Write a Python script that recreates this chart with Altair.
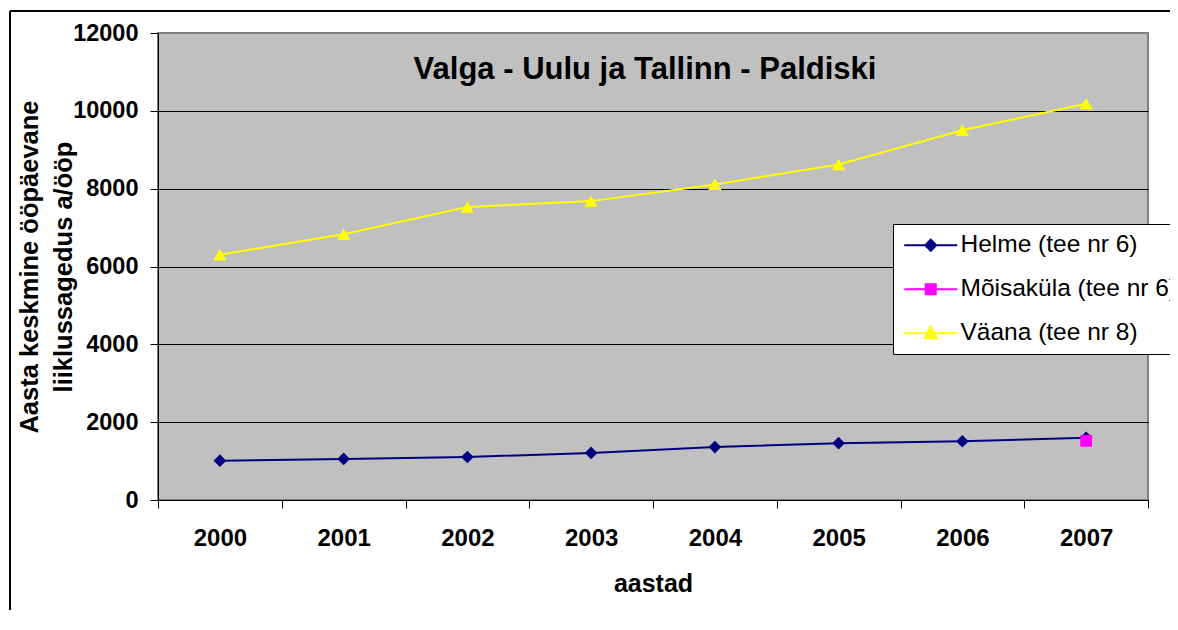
import altair as alt
import pandas as pd

# ---- data ----
years = ["2000", "2001", "2002", "2003", "2004", "2005", "2006", "2007"]
series = ["Helme (tee nr 6)", "Mõisaküla (tee nr 6)", "Väana (tee nr 8)"]
helme = [1010, 1055, 1105, 1210, 1360, 1460, 1510, 1600]
moisakula_years = ["2007"]
moisakula = [1520]
vaana = [6300, 6830, 7530, 7680, 8110, 8620, 9500, 10180]
y_ticks = [0, 2000, 4000, 6000, 8000, 10000, 12000]
colors = ["#000080", "#FF00FF", "#FFFF00"]
marker_shapes = ["diamond", "square", "triangle-up"]
marker_sizes = [160, 140, 175]
legend_paths = [
    "M-1,0H4.3M1.65,-0.55L2.2,0L1.65,0.55L1.1,0Z",
    "M-1,0H4.3M1.15,-0.5H2.15V0.5H1.15Z",
    "M-1,0H4.3M1.65,-0.65L2.25,0.5L1.05,0.5Z",
]
title_text = "Valga - Uulu ja Tallinn - Paldiski"
FONT = "Liberation Sans"

rows = []
for y, v in zip(years, helme):
    rows.append({"year": y, "value": v, "series": series[0]})
for y, v in zip(moisakula_years, moisakula):
    rows.append({"year": y, "value": v, "series": series[1]})
for y, v in zip(years, vaana):
    rows.append({"year": y, "value": v, "series": series[2]})
df = pd.DataFrame(rows)
decor = pd.DataFrame({"k": [0]})

x_enc = alt.X(
    "year:O",
    scale=alt.Scale(type="band", domain=years, paddingInner=0, paddingOuter=0),
    bandPosition=0.5,
    axis=alt.Axis(
        title="aastad",
        tickBand="extent",
        labelAngle=0,
        labelFont=FONT,
        labelFontSize=24,
        labelFontWeight="bold",
        labelColor="black",
        labelPadding=18,
        tickSize=8,
        tickColor="black",
        domainColor="black",
        domainWidth=1,
        grid=False,
        titleFont=FONT,
        titleFontSize=25,
        titleFontWeight="bold",
        titleColor="black",
        titleY=83,
        titleBaseline="middle",
    ),
)
y_enc = alt.Y(
    "value:Q",
    scale=alt.Scale(domain=[0, 12000], nice=False),
    axis=alt.Axis(
        values=y_ticks,
        format="d",
        title=["Aasta keskmine ööpäevane", "liiklussagedus a/ööp"],
        labelFont=FONT,
        labelFontSize=23.5,
        labelFontWeight="bold",
        labelColor="black",
        labelPadding=12,
        tickSize=8,
        tickColor="black",
        domainColor="black",
        domainWidth=1,
        grid=True,
        gridColor="black",
        gridWidth=1,
        gridOpacity={"condition": {"test": "datum.value === 12000 || datum.value === 0", "value": 0}, "value": 1},
        titleFont=FONT,
        titleFontSize=25.5,
        titleFontWeight="bold",
        titleColor="black",
        titleAngle=270,
        titleAlign="center",
        titleBaseline="middle",
        titleLineHeight=34,
        titleX=-129,
        titleY=233.5,
    ),
)

leg = alt.Legend(
    title=None,
    orient="none",
    legendX=735,
    legendY=191,
    padding=9,
    fillColor="white",
    strokeColor="black",
    cornerRadius=0,
    labelFont=FONT,
    labelFontSize=24.5,
    labelColor="black",
    labelOffset=34,
    labelLimit=500,
    symbolSize=400,
    symbolStrokeWidth=2,
    symbolOpacity=1,
    rowPadding=19,
)

border_top = alt.Chart(decor).mark_rule(color="black", strokeWidth=2).encode(
    x=alt.value(-148), x2=alt.value(1040), y=alt.value(-22)
)
border_left = alt.Chart(decor).mark_rule(color="black", strokeWidth=2).encode(
    x=alt.value(-148), y=alt.value(-22), y2=alt.value(640)
)

line_layers = []
point_layers = []
for s, c, shp, sz in zip(series, colors, marker_shapes, marker_sizes):
    base = alt.Chart(df).transform_filter(alt.datum.series == s)
    line_layers.append(
        base.mark_line(strokeWidth=2, color=c).encode(x=x_enc, y=y_enc)
    )
    point_layers.append(
        base.mark_point(shape=shp, filled=True, opacity=1, size=sz, strokeWidth=0, color=c)
        .encode(x=x_enc, y=y_enc)
    )

legend_layer = alt.Chart(df).mark_point(opacity=0).encode(
    x=x_enc,
    y=y_enc,
    fill=alt.Fill("series:N", scale=alt.Scale(domain=series, range=colors), legend=leg),
    stroke=alt.Stroke("series:N", scale=alt.Scale(domain=series, range=colors), legend=leg),
    shape=alt.Shape("series:N", scale=alt.Scale(domain=series, range=legend_paths), legend=leg),
)

title_layer = alt.Chart(decor).mark_text(
    text=title_text,
    font=FONT,
    fontSize=31,
    fontWeight="bold",
    color="black",
    align="center",
    baseline="middle",
).encode(x=alt.value(487), y=alt.value(37))

chart = (
    alt.layer(border_top, border_left, *line_layers, *point_layers, legend_layer, title_layer)
    .properties(
        width=990,
        height=467,
        autosize=alt.AutoSizeParams(type="none"),
        padding={"left": 150, "top": 25, "right": 22, "bottom": 110},
        background="white",
    )
    .configure_view(fill="#C0C0C0", stroke="#808080", strokeWidth=2)
)

chart.save("out.html", embed_options={"renderer": "svg", "actions": False})
